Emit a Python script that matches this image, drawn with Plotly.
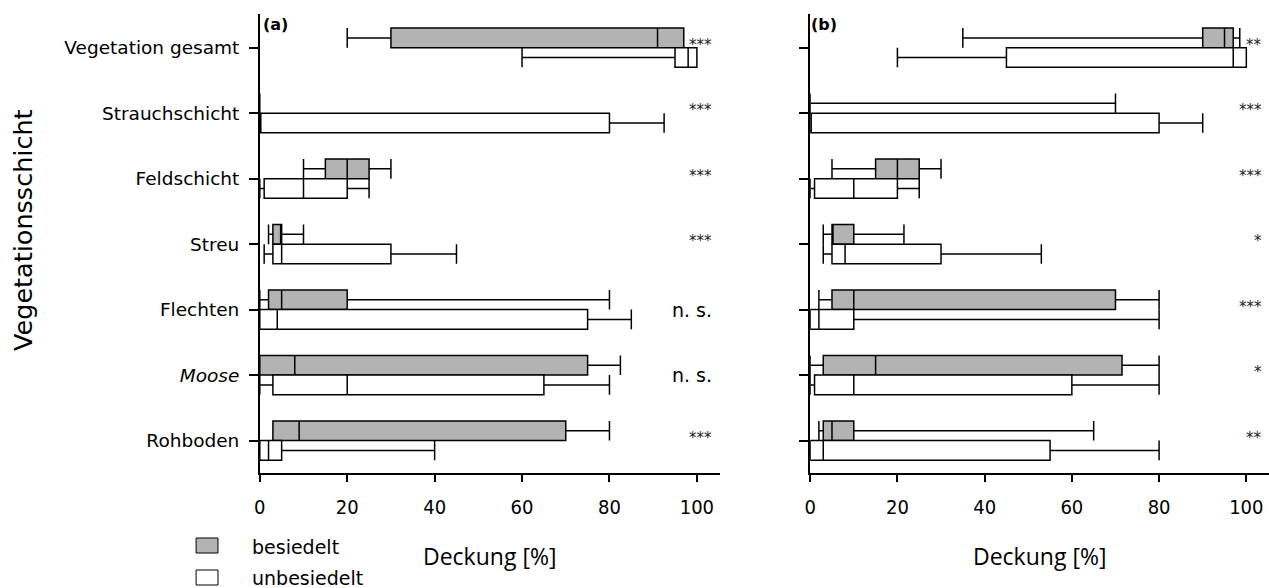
import plotly.graph_objects as go

W, H = 1269, 588

# ---------------- data ----------------
categories = ["Vegetation gesamt", "Strauchschicht", "Feldschicht", "Streu",
              "Flechten", "Moose", "Rohboden"]
tick_text = ["Vegetation gesamt", "Strauchschicht", "Feldschicht", "Streu",
             "Flechten", "<i>Moose</i>", "Rohboden"]

# panel (a)
a_bes_min = [20, 0, 10, 2, 0, 0, 3]
a_bes_q1 = [30, 0, 15, 3, 2, 0, 3]
a_bes_med = [91, 0, 20, 5, 5, 8, 9]
a_bes_q3 = [97, 0, 25, 5, 20, 75, 70]
a_bes_max = [97, 0, 30, 10, 80, 82.5, 80]

a_unb_min = [60, 0, 0, 1, 0, 0, 0]
a_unb_q1 = [95, 0, 1, 3, 0, 3, 0]
a_unb_med = [98, 0, 10, 5, 4, 20, 2]
a_unb_q3 = [100, 80, 20, 30, 75, 65, 5]
a_unb_max = [100, 92.5, 25, 45, 85, 80, 40]

# panel (b)
b_bes_min = [35, 0, 5, 3, 2, 0, 2]
b_bes_q1 = [90, 0, 15, 5, 5, 3, 3]
b_bes_med = [95, 0, 20, 5, 10, 15, 5]
b_bes_q3 = [97, 0, 25, 10, 70, 71.5, 10]
b_bes_max = [98.5, 70, 30, 21.5, 80, 80, 65]

b_unb_min = [20, 0, 0, 3, 0, 0, 0]
b_unb_q1 = [45, 0, 1, 5, 0, 1, 0]
b_unb_med = [97, 0, 10, 8, 2, 10, 3]
b_unb_q3 = [100, 80, 20, 30, 10, 60, 55]
b_unb_max = [100, 90, 25, 53, 80, 80, 80]

sig_a = ["***", "***", "***", "***", "n. s.", "n. s.", "***"]
sig_b = ["**", "***", "***", "*", "***", "*", "**"]

x_ticks = [0, 20, 40, 60, 80, 100]
group_names = ["besiedelt", "unbesiedelt"]

# ---------------- styles ----------------
GREY = "#b3b3b3"
LINE = dict(color="black", width=1.5)
BOX_H = 0.3                     # box thickness in category units
CAT_FONT = dict(family="DejaVu Sans", size=18.5, color="black")
NUM_FONT = dict(family="DejaVu Sans Condensed, DejaVu Sans", size=20, color="black")


def px(x):
    return x / W


def py(y):
    return 1 - y / H


cat_idx = list(range(len(categories)))

fig = go.Figure()

panels = [
    ("x", "y", [(a_bes_min, a_bes_q1, a_bes_med, a_bes_q3, a_bes_max),
                (a_unb_min, a_unb_q1, a_unb_med, a_unb_q3, a_unb_max)]),
    ("x2", "y2", [(b_bes_min, b_bes_q1, b_bes_med, b_bes_q3, b_bes_max),
                  (b_unb_min, b_unb_q1, b_unb_med, b_unb_q3, b_unb_max)]),
]
fills = [GREY, "white"]
sides = [-0.5, 0.5]   # besiedelt above the tick, unbesiedelt below

for xa, ya, groups in panels:
    for gi, (mn, q1, med, q3, mx) in enumerate(groups):
        pos = [i + sides[gi] * BOX_H for i in cat_idx]
        fig.add_trace(go.Box(
            orientation="h", y=pos, width=BOX_H,
            q1=q1, median=med, q3=q3, lowerfence=mn, upperfence=mx,
            fillcolor=fills[gi], line=LINE, whiskerwidth=1,
            name=group_names[gi], xaxis=xa, yaxis=ya,
            showlegend=False, hoverinfo="skip", boxpoints=False,
        ))

dom_y = [py(473.3), py(14)]
common_x = dict(range=[0, 105.2], tickvals=x_ticks, ticks="outside", ticklen=7,
                tickwidth=1.5, tickcolor="black", showline=True, linecolor="black",
                linewidth=1.5, showgrid=False, zeroline=False, tickfont=NUM_FONT,
                ticklabelstandoff=8)
common_y = dict(range=[6.5, -0.515], tickvals=cat_idx, ticks="outside", ticklen=9,
                tickwidth=1.5, tickcolor="black", showline=True, linecolor="black",
                linewidth=1.5, showgrid=False, zeroline=False, domain=dom_y)

fig.update_layout(
    width=W, height=H,
    margin=dict(l=0, r=0, t=0, b=0),
    paper_bgcolor="white", plot_bgcolor="white",
    boxmode="overlay",
    xaxis=dict(domain=[px(255), px(717)], anchor="y", **common_x),
    xaxis2=dict(domain=[px(808), 1.0], anchor="y2", **common_x),
    yaxis=dict(anchor="x", ticktext=tick_text, tickfont=CAT_FONT,
               ticklabelstandoff=6, **common_y),
    yaxis2=dict(anchor="x2", showticklabels=False, **common_y),
)

ann = []
for xr, yr, sig in [("x", "y", sig_a), ("x2", "y2", sig_b)]:
    for i, s in zip(cat_idx, sig):
        if s.startswith("n"):
            ann.append(dict(xref=xr, yref=yr, x=104, y=i, text=s, showarrow=False,
                            xanchor="right", yanchor="middle", yshift=0,
                            font=dict(family="DejaVu Sans", size=19, color="black")))
        else:
            ann.append(dict(xref=xr, yref=yr, x=104, y=i, text=s, showarrow=False,
                            xanchor="right", yanchor="middle", yshift=3,
                            font=dict(family="DejaVu Sans", size=15, color="#222222")))

# axis titles
for xr in ["x domain", "x2 domain"]:
    ann.append(dict(xref=xr, yref="paper", x=0.5, y=py(556), text="Deckung [%]",
                    showarrow=False, xanchor="center", yanchor="middle",
                    font=dict(family="Open Sans", size=23, color="black")))
ann.append(dict(xref="paper", yref="paper", x=px(17), y=py(230), text="Vegetationsschicht",
                textangle=-90, showarrow=False, xanchor="center", yanchor="middle",
                font=dict(family="DejaVu Sans", size=25.5, color="black")))
# panel labels
ann.append(dict(xref="paper", yref="paper", x=px(256), y=py(25), text="<b>(a)</b>",
                showarrow=False, xanchor="left", yanchor="middle",
                font=dict(family="DejaVu Sans", size=16, color="black")))
ann.append(dict(xref="paper", yref="paper", x=px(807), y=py(25), text="<b>(b)</b>",
                showarrow=False, xanchor="left", yanchor="middle",
                font=dict(family="DejaVu Sans", size=16, color="black")))

# legend (manual)
shapes = []
leg_rows = [(GREY, 538, 553, group_names[0], 547), ("white", 570, 585, group_names[1], 578)]
for col, y0, y1, label, yc in leg_rows:
    shapes.append(dict(type="rect", xref="paper", yref="paper", x0=px(191), x1=px(213),
                       y0=py(y1), y1=py(y0), fillcolor=col,
                       line=dict(color="black", width=1)))
    ann.append(dict(xref="paper", yref="paper", x=px(245), y=py(yc), text=label,
                    showarrow=False, xanchor="left", yanchor="middle",
                    font=dict(family="DejaVu Sans", size=19, color="black")))

fig.update_layout(annotations=ann, shapes=shapes)

fig.write_html("out.html", config={"displayModeBar": False},
               post_script="document.body.style.margin='0px';"
                           "document.body.style.overflow='hidden';")
